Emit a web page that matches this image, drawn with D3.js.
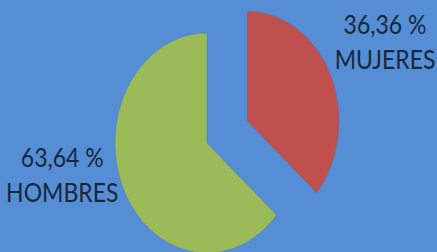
<!DOCTYPE html>
<html lang="es">
  <head>
    <meta charset="UTF-8" />
    <title>Mujeres / Hombres</title>
    <script src="https://d3js.org/d3.v7.min.js"></script>
    <style>
      body {
        margin: 0;
        background: #558ed5;
      }
      svg {
        display: block;
      }
      .label text {
        font-family: Lato, "Open Sans", sans-serif;
        font-size: 23px;
        fill: #17283a;
        text-anchor: middle;
      }
    </style>
  </head>
  <body>
    <svg width="437" height="252"></svg>

    <script>
      const categories = ["MUJERES", "HOMBRES"];
      const values = [36.36, 63.64];
      const valueLabels = ["36,36 %", "63,64 %"];
      const colors = ["#c0504d", "#9bbb59"];

      const svg = d3.select("svg");

      // the picture is stretched: pie is drawn round, then squashed into an ellipse
      const R = 100,
        sx = 0.92,
        sy = 1.1,
        cx = 207,
        cy = 143;

      const explode = [48, 0];
      // label angle (deg, clockwise from top) and radius, before stretching
      const labelAngle = [64.5, 259.5];
      const labelRadius = [166, 160];

      const pie = d3.pie().sort(null).value((d) => d)(values);
      const arc = d3.arc().innerRadius(0).outerRadius(R);

      // offset of an exploded slice, in unstretched units
      const shift = (d, i) => {
        const a = (d.startAngle + d.endAngle) / 2;
        return [Math.sin(a) * explode[i], -Math.cos(a) * explode[i]];
      };

      svg.append("rect").attr("width", 437).attr("height", 252).attr("fill", "#558ed5");

      const g = svg.append("g").attr("transform", `translate(${cx},${cy}) scale(${sx},${sy})`);

      g.selectAll("path")
        .data(pie)
        .join("path")
        .attr("fill", (d, i) => colors[i])
        .attr("stroke", "#4a7fc0")
        .attr("stroke-width", 0.5)
        .attr("transform", (d, i) => `translate(${shift(d, i)})`)
        .attr("d", arc);

      const labels = svg
        .selectAll("g.label")
        .data(pie)
        .join("g")
        .attr("class", "label")
        .attr("transform", (d, i) => {
          const a = (labelAngle[i] * Math.PI) / 180;
          const [ox, oy] = shift(d, i);
          const x = cx + (ox + Math.sin(a) * labelRadius[i]) * sx;
          const y = cy + (oy - Math.cos(a) * labelRadius[i]) * sy;
          return `translate(${x},${y}) scale(1,1.2)`;
        });

      labels.append("text").attr("y", -7).text((d, i) => valueLabels[i]);
      labels.append("text").attr("y", 22.5).text((d, i) => categories[i]);
    </script>
  </body>
</html>
